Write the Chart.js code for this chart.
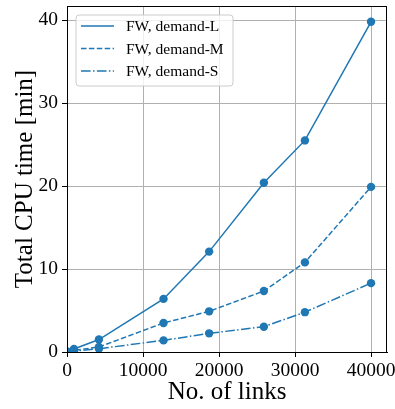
<!DOCTYPE html>
<html>
<head>
<meta charset="utf-8">
<script src="https://cdn.jsdelivr.net/npm/chart.js@4.4.1/dist/chart.umd.min.js"></script>
<style>
  html, body { margin: 0; padding: 0; background: #fff; }
  #wrap { width: 395px; height: 409px; position: relative; }
</style>
</head>
<body>
<div id="wrap"><canvas id="cpuChart"></canvas></div>
<script>
const LINKS = [76, 914, 4200, 12700, 18700, 25900, 31300, 40000];
const DEMAND_L = [0.05, 0.36, 1.5, 6.4, 12.1, 20.4, 25.5, 39.8];
const DEMAND_M = [0.02, 0.2, 0.6, 3.5, 4.9, 7.35, 10.8, 19.9];
const DEMAND_S = [0.01, 0.1, 0.4, 1.4, 2.25, 3.05, 4.8, 8.3];
const SERIES_LABELS = ["FW, demand-L", "FW, demand-M", "FW, demand-S"];
const X_TICKS = [0, 10000, 20000, 30000, 40000];
const Y_TICKS = [0, 10, 20, 30, 40];

const BLUE = "#1f77b4";
const SERIF = "'Liberation Serif', 'Times New Roman', serif";

function toPoints(ys) {
  return LINKS.map((x, i) => ({ x, y: ys[i] }));
}

function makeDataset(label, ys, dash) {
  return {
    label,
    data: toPoints(ys),
    borderColor: BLUE,
    backgroundColor: BLUE,
    borderWidth: 1.5,
    borderDash: dash,
    pointRadius: 4.2,
    pointHoverRadius: 4.2,
    pointBorderWidth: 0,
    pointBackgroundColor: BLUE,
    tension: 0,
  };
}

// frame (top/right spines) + matplotlib-like legend inside the axes
const framePlugin = {
  id: "frame",
  afterDraw(chart) {
    const { ctx, chartArea: a } = chart;
    ctx.save();
    ctx.strokeStyle = "#000";
    ctx.lineWidth = 1;
    ctx.strokeRect(a.left + 0.5, a.top + 0.5, a.right - a.left - 1, a.bottom - a.top);

    // legend
    const bx = a.left + 9, by = a.top + 9, bw = 157, bh = 71;
    ctx.beginPath();
    ctx.roundRect(bx, by, bw, bh, 3);
    ctx.fillStyle = "rgba(255,255,255,0.8)";
    ctx.fill();
    ctx.strokeStyle = "#cccccc";
    ctx.lineWidth = 1;
    ctx.stroke();

    ctx.font = `15.5px ${SERIF}`;
    ctx.textBaseline = "middle";
    chart.data.datasets.forEach((ds, i) => {
      const y = by + 11 + i * 22.5;
      ctx.beginPath();
      ctx.setLineDash(ds.borderDash || []);
      ctx.strokeStyle = ds.borderColor;
      ctx.lineWidth = ds.borderWidth;
      ctx.moveTo(bx + 5, y);
      ctx.lineTo(bx + 38, y);
      ctx.stroke();
      ctx.setLineDash([]);
      ctx.fillStyle = "#000";
      ctx.fillText(ds.label, bx + 50, y + 1);
    });
    ctx.restore();
  },
};

const tickFont = { family: SERIF, size: 19.5 };
const titleFont = { family: SERIF, size: 25 };

new Chart(document.getElementById("cpuChart"), {
  type: "line",
  data: {
    datasets: [
      makeDataset(SERIES_LABELS[0], DEMAND_L, []),
      makeDataset(SERIES_LABELS[1], DEMAND_M, [5.5, 2.4]),
      makeDataset(SERIES_LABELS[2], DEMAND_S, [9.6, 2.4, 1.5, 2.4]),
    ],
  },
  options: {
    responsive: true,
    maintainAspectRatio: false,
    animation: false,
    layout: { padding: { top: 6, right: 8, left: 0, bottom: 0 } },
    plugins: {
      legend: { display: false },
      tooltip: { enabled: false },
    },
    scales: {
      x: {
        type: "linear",
        min: 0,
        max: 42100,
        afterBuildTicks: (s) => { s.ticks = X_TICKS.map((v) => ({ value: v })); },
        afterFit: (s) => {
          s.height = 57;
          s.paddingLeft = 0;
          s.paddingRight = 0;
        },
        ticks: { font: tickFont, color: "#000", padding: 2, maxRotation: 0, callback: (v) => String(v) },
        grid: { color: "#b0b0b0", lineWidth: 1, tickColor: "#000", tickLength: 5 },
        border: { color: "#000", width: 1 },
        title: { display: true, text: "No. of links", font: titleFont, color: "#000", padding: { top: 0, bottom: 2 } },
      },
      y: {
        type: "linear",
        min: 0,
        max: 41.7,
        afterBuildTicks: (s) => { s.ticks = Y_TICKS.map((v) => ({ value: v })); },
        afterFit: (s) => {
          s.width = 67;
          s.paddingTop = 0;
          s.paddingBottom = 0;
        },
        ticks: { font: tickFont, color: "#000", padding: 4 },
        grid: { color: "#b0b0b0", lineWidth: 1, tickColor: "#000", tickLength: 5 },
        border: { color: "#000", width: 1 },
        title: { display: true, text: "Total CPU time [min]", font: titleFont, color: "#000", padding: { top: 10, bottom: 0 } },
      },
    },
  },
  plugins: [framePlugin],
});
</script>
</body>
</html>
